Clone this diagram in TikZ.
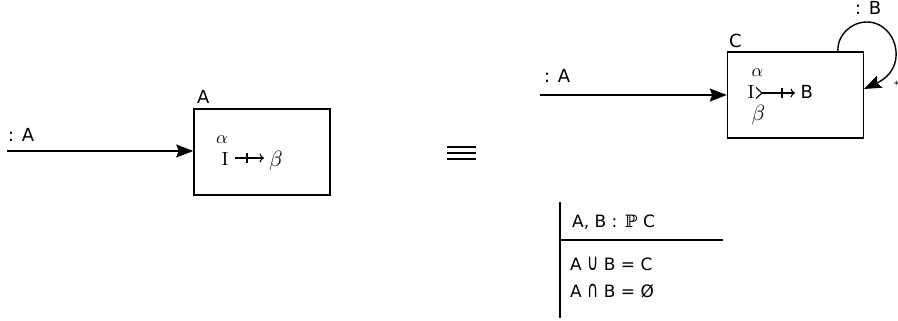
\documentclass[tikz,border=0pt]{standalone}
\usepackage{fontspec}
\usepackage{graphicx}
\newfontfamily\dejavu{DejaVu Sans}
\newfontfamily\dejaserif{DejaVu Serif}
\usetikzlibrary{arrows.meta,calc}

\newcommand{\alphasym}{\scalebox{1.8}{$\alpha$}}
\newcommand{\betasym}{\scalebox{2.2}{$\beta$}}
\newcommand{\isym}{\scalebox{1.9}{$\mathrm{I}$}}

\begin{document}
\begin{tikzpicture}[x=1pt,y=-1pt,
  box/.style={draw, line width=1.5pt, minimum width=136pt, minimum height=86pt, inner sep=0pt},
  flow/.style={line width=1.4pt, -{Stealth[length=17pt,width=13pt,inset=2.5pt]}},
  lbl/.style={font=\dejavu\fontsize{18}{20}\selectfont, inner sep=0pt, anchor=base west},
  zlbl/.style={font=\dejavu\fontsize{17}{20}\selectfont, inner sep=0pt, anchor=base west},
  mth/.style={inner sep=0pt, anchor=base west},
  sym/.style={line width=1.1pt},
  symtip/.style={sym, -{To[length=4.5pt,width=9pt]}},
  rule/.style={line width=1.4pt},
]
\useasboundingbox (0,0) rectangle (898,321);

% ---- left: single box A ----
\node[box] (boxA) at (262,152) {};
\node[lbl] (nameA) at (197,104) {A};
\coordinate (inA) at (7,151);
\draw[flow] (inA) -- (boxA.west |- inA);
\node[lbl] (labA) at (8,141) {: A};
\node[mth] (alphaA) at (216,143) {\alphasym};
\node[mth] (iA) at (221.5,165) {\isym};
\node[mth] (betaA) at (269,166.5) {\betasym};
% partial function arrow
\coordinate (pfS) at (235,158);
\coordinate (pfE) at (264,158);
\draw[symtip] (pfS) -- (pfE);
\draw[sym] (247,153) -- (247,163);

% ---- equivalence sign ----
\coordinate (eqL) at (447,152.7);
\coordinate (eqR) at (476,152.7);
\foreach \dy in {-6,0,6}
  \draw[line width=1.6pt] ($(eqL)+(0,\dy)$) -- ($(eqR)+(0,\dy)$);

% ---- right: box C with loop ----
\node[box] (boxC) at (795.5,95) {};
\node[lbl] (nameC) at (729,48) {C};
\coordinate (inC) at (540,95);
\draw[flow] (inC) -- (boxC.west);
\node[lbl] (labA2) at (544,83) {: A};
\node[mth] (alphaC) at (751.5,77) {\alphasym};
\node[mth] (iC) at (747.5,99) {\isym};
\node[lbl] (bC) at (800.5,99) {B};
\node[mth] (betaC) at (751.5,120.5) {\betasym};
% partial injection arrow
\coordinate (piS) at (756,93);
\coordinate (piE) at (795,93);
\draw[sym] ($(piS)+(0,-5.5)$) .. controls ($(piS)+(3.5,-3.5)$) .. ($(piS)+(6,0)$)
           .. controls ($(piS)+(3.5,3.5)$) .. ($(piS)+(0,5.5)$);
\draw[symtip] ($(piS)+(6,0)$) -- (piE);
\draw[sym] (782,88) -- (782,98);
% self loop
\coordinate (loopS) at (838,52);
\coordinate (loopE) at (864,89);
\draw[flow] (loopS) to[out=95,in=180] (867,22) to[out=0,in=85] (896,57) to[out=-95,in=25] (loopE);
\node[lbl] (labB) at (855,15) {: B};
\node[font=\dejavu\fontsize{10}{10}\selectfont, inner sep=0pt] (star) at (896.5,85) {*};

% ---- schema ----
\coordinate (schTop) at (560,202);
\coordinate (schBot) at (560,318);
\coordinate (schMid) at (560,240);
\coordinate (schRight) at (723,240);
\draw[rule] (schTop) -- (schBot);
\draw[rule] (schMid) -- (schRight);
\node[zlbl] (decl) at (572,227) {A, B : \hspace{2pt}{\dejaserif ℙ} C};
\node[zlbl] (pred1) at (570,270) {A \raisebox{-0.5pt}{\scalebox{0.9}[1.35]{∪}} B = C};
\node[zlbl] (pred2) at (570,297) {A \raisebox{-0.5pt}{\scalebox{0.9}[1.35]{∩}} B = Ø};
\end{tikzpicture}
\end{document}
